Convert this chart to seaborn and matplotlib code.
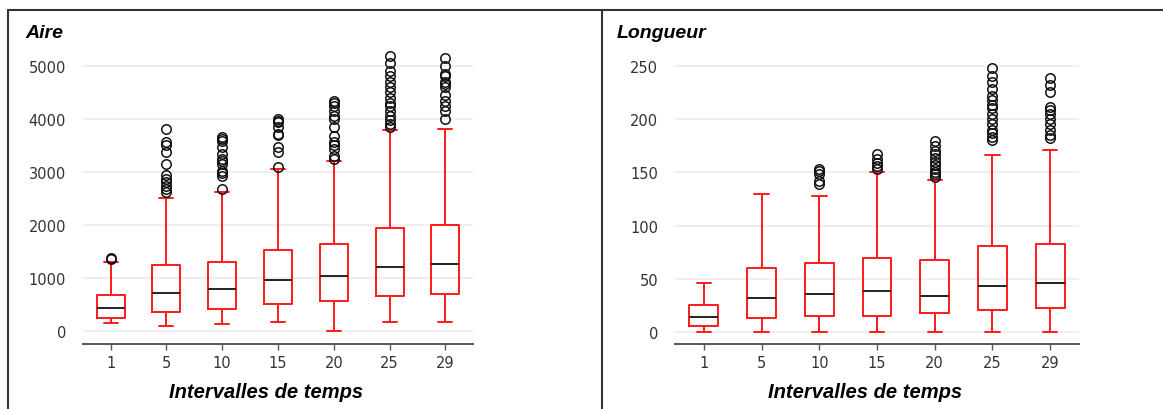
import numpy as np
import pandas as pd
import matplotlib
matplotlib.use("Agg")
import matplotlib.pyplot as plt
from matplotlib.lines import Line2D
import seaborn as sns

intervalles = ["1", "5", "10", "15", "20", "25", "29"]

# Aire : valeurs (quartiles, moustaches, points isoles)
aire_bas = [145, 94, 126, 170, 0, 170, 170]
aire_q1 = [252, 358, 409, 503, 566, 660, 704]
aire_med = [434, 723, 792, 956, 1044, 1208, 1270]
aire_q3 = [686, 1245, 1308, 1522, 1635, 1931, 1994]
aire_haut = [1296, 2497, 2623, 3050, 3208, 3786, 3805]
aire_isoles = [
    [1350, 1370],
    [2611, 2680, 2736, 2800, 2862, 2938, 3145, 3366, 3500, 3566, 3806],
    [2674, 2925, 2980, 3019, 3145, 3200, 3240, 3334, 3460, 3580, 3617, 3650],
    [3083, 3366, 3460, 3700, 3711, 3837, 3930, 3962, 3994],
    [3240, 3300, 3428, 3500, 3553, 3679, 3837, 4000, 4057, 4151, 4245, 4300, 4340],
    [3850, 3900, 3980, 4050, 4150, 4250, 4300, 4400, 4500, 4600, 4700, 4800,
     4900, 5050, 5180],
    [3990, 4150, 4250, 4330, 4450, 4600, 4650, 4700, 4800, 4850, 5000, 5150],
]

# Longueur
long_bas = [0, 0, 0, 0, 0, 0, 0]
long_q1 = [5.6, 13, 15.6, 15.6, 18, 21, 23]
long_med = [14.4, 32, 36, 38.4, 34.4, 43, 46]
long_q3 = [25.6, 60.6, 64.7, 70, 68, 81, 83]
long_haut = [46, 130, 128, 150.6, 143, 166, 171]
long_isoles = [
    [],
    [],
    [139, 142, 148, 151.6, 153],
    [153, 156, 159, 162.5, 167],
    [146, 148, 150, 153, 157, 160, 163, 167, 170, 175, 179],
    [180, 183, 187, 190, 195, 200, 205, 210, 213, 218, 222, 228, 235, 240, 248],
    [182, 185, 190, 195, 200, 205, 208, 211, 225, 232, 238],
]


def echantillon(bas, q1, med, q3, haut, isoles, m=200):
    # valeurs repetees pour que les quartiles calcules tombent sur les valeurs lues
    return [bas] + [q1] * m + [med] * m + [q3] * m + [haut] + list(isoles)


def tableau(bas, q1, med, q3, haut, isoles):
    rows = []
    for i, lab in enumerate(intervalles):
        for v in echantillon(bas[i], q1[i], med[i], q3[i], haut[i], isoles[i]):
            rows.append((lab, v))
    return pd.DataFrame(rows, columns=["intervalle", "valeur"])


df_aire = tableau(aire_bas, aire_q1, aire_med, aire_q3, aire_haut, aire_isoles)
df_long = tableau(long_bas, long_q1, long_med, long_q3, long_haut, long_isoles)

sns.set_theme(style="white")
plt.rcParams["font.family"] = ["DejaVu Sans"]

W, H = 1163, 410
fig = plt.figure(figsize=(W / 100, H / 100), dpi=100)

ax1 = fig.add_axes([82.7 / W, 0.158, 390.6 / W, 0.732])
ax2 = fig.add_axes([675 / W, 0.158, 404 / W, 0.732])

rouge = "#ff1a1a"
for ax, df, ylim, ticks, titre, tx in [
    (ax1, df_aire, (-251, 5408), np.arange(0, 5001, 1000), "Aire", 25),
    (ax2, df_long, (-11.2, 270.2), np.arange(0, 251, 50), "Longueur", 617),
]:
    sns.boxplot(
        data=df, x="intervalle", y="valeur", ax=ax, order=intervalles,
        fill=False, color=rouge, width=0.5, linewidth=1.4, whis=1.5,
        medianprops={"color": "#222222", "linewidth": 1.4},
        flierprops={"marker": "o", "markerfacecolor": "none",
                    "markeredgecolor": "#111111", "markersize": 6.8,
                    "markeredgewidth": 1.1},
    )
    ax.set_xlim(-0.5, 6.5)
    ax.set_ylim(*ylim)
    ax.set_yticks(ticks)
    ax.yaxis.grid(True, color="#efefef", linewidth=1.6)
    ax.set_axisbelow(True)
    for s in ["top", "right", "left"]:
        ax.spines[s].set_visible(False)
    ax.spines["bottom"].set_color("#555555")
    ax.spines["bottom"].set_linewidth(1.4)
    ax.tick_params(axis="y", length=0, pad=12, labelsize=10.5, labelcolor="#333333")
    ax.tick_params(axis="x", length=4, width=1, color="#555555", pad=4,
                   labelsize=10.5, labelcolor="#333333", bottom=True)
    ax.set_ylabel("")
    ax.set_xlabel("Intervalles de temps", fontsize=14.5, fontweight="bold",
                  fontstyle="italic", family=["Liberation Sans", "DejaVu Sans"],
                  color="black")
    ax.xaxis.set_label_coords(0.47, -0.125)
    fig.text(tx / W, 1 - 34 / H, titre, fontsize=14, fontweight="bold",
             fontstyle="italic", family=["Liberation Sans", "DejaVu Sans"],
             ha="left", va="center", color="black")

# cadres autour des deux panneaux
cadre = "#333333"
y_top = 1 - 10.5 / H
fig.add_artist(Line2D([8 / W, 1], [y_top, y_top], color=cadre, lw=1.5))
fig.add_artist(Line2D([8 / W, 8 / W], [0, y_top], color=cadre, lw=1.5))
fig.add_artist(Line2D([602 / W, 602 / W], [0, y_top], color=cadre, lw=1.5))

fig.savefig("out.png", dpi=100)
